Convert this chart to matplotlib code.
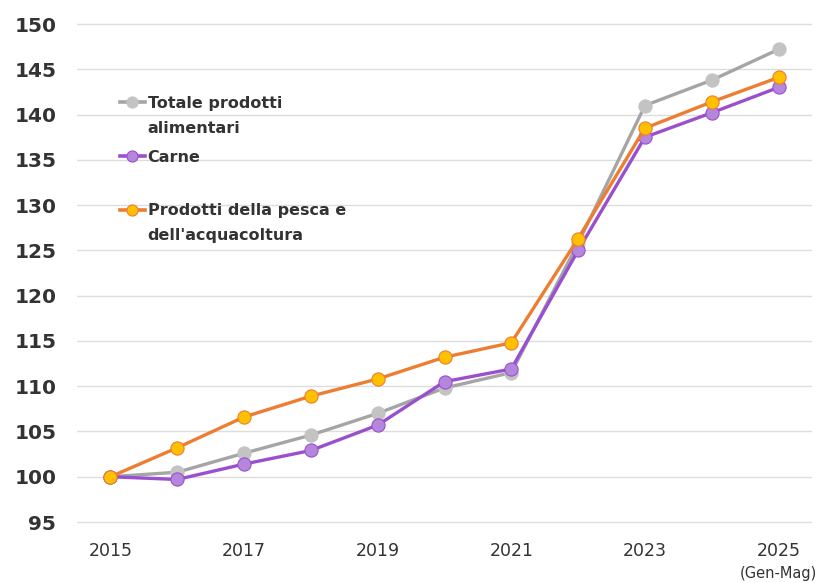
import matplotlib.pyplot as plt
from matplotlib.lines import Line2D

# dati (indice 2015 = 100)
anni = [2015, 2016, 2017, 2018, 2019, 2020, 2021, 2022, 2023, 2024, 2025]
totale = [100.0, 100.5, 102.6, 104.6, 107.0, 109.8, 111.5, 125.8, 141.0, 143.8, 147.2]
carne = [100.0, 99.7, 101.4, 102.9, 105.7, 110.5, 111.9, 125.0, 137.5, 140.2, 143.0]
pesca = [100.0, 103.2, 106.6, 108.9, 110.8, 113.2, 114.8, 126.3, 138.5, 141.4, 144.1]

tick_anni = [2015, 2017, 2019, 2021, 2023, 2025]
tick_y = list(range(95, 151, 5))

nomi = ["Totale prodotti\nalimentari", "Carne", "Prodotti della pesca e\ndell'acquacoltura"]
stili = [
    dict(color="#A5A5A5", mfc="#C3C3C3", mec="#C3C3C3"),
    dict(color="#9A4FCF", mfc="#B487DC", mec="#9A4FCF"),
    dict(color="#ED7D31", mfc="#FFC000", mec="#ED7D31"),
]

fig = plt.figure(figsize=(8.23, 5.83), dpi=100)
ax = fig.add_axes([0.0936, 0.1015, 0.893, 0.8604])

for serie, st in zip([totale, carne, pesca], stili):
    ax.plot(anni, serie, color=st["color"], lw=2.4, marker="o", ms=9.5,
            mfc=st["mfc"], mec=st["mec"], mew=0.8, zorder=3)

ax.set_xlim(2014.5, 2025.5)
ax.set_ylim(94.8, 150.2)
ax.set_yticks(tick_y)
ax.set_xticks(tick_anni)
ax.set_xticklabels([str(a) for a in tick_anni])
ax.grid(axis="y", color="#DDDDDD", lw=1)
ax.set_axisbelow(True)
for s in ax.spines.values():
    s.set_visible(False)
ax.tick_params(length=0)
ax.tick_params(axis="y", pad=15)
ax.tick_params(axis="x", pad=13)
for lab in ax.get_yticklabels():
    lab.set_fontweight("bold")
    lab.set_fontsize(14.5)
    lab.set_color("#333333")
for lab in ax.get_xticklabels():
    lab.set_fontsize(12.5)
    lab.set_color("#333333")

fig.text(0.993, 0.003, "(Gen-Mag)", ha="right", va="bottom", fontsize=10.5, color="#333333")

# legenda manuale (posizioni in frazione d'asse)
leg_y = [0.840, 0.733, 0.626]
for nome, st, yy in zip(nomi, stili, leg_y):
    ln = Line2D([0.058, 0.092], [yy, yy], transform=ax.transAxes, color=st["color"], lw=2.6,
                clip_on=False, zorder=4)
    ax.add_line(ln)
    ax.plot([0.075], [yy], transform=ax.transAxes, marker="o", ms=8, mfc=st["mfc"],
            mec=st["mec"], mew=0.8, clip_on=False, zorder=5)
    ax.text(0.096, yy + 0.013, nome, transform=ax.transAxes, ha="left", va="top",
            fontsize=11.5, fontweight="bold", color="#333333", linespacing=1.8)

fig.savefig("out.png", dpi=100)
